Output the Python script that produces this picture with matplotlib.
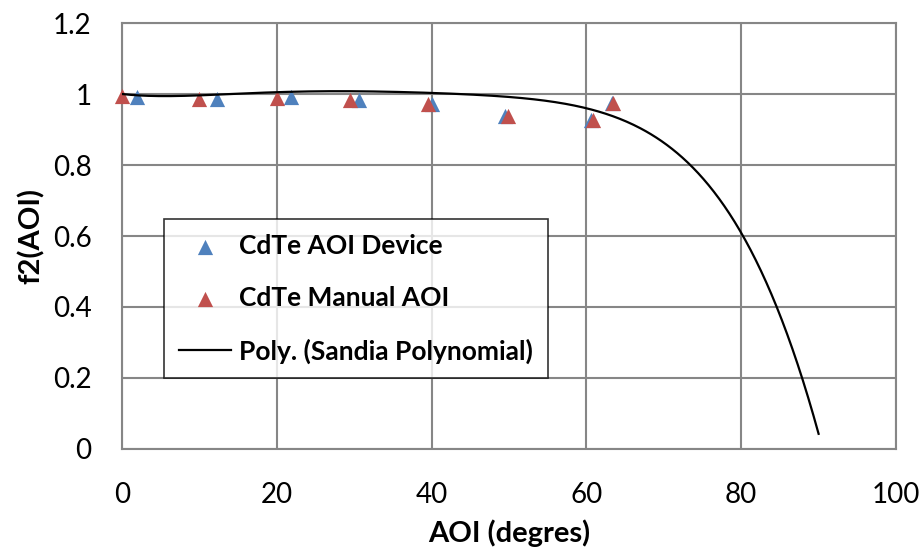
import numpy as np
import matplotlib
matplotlib.use("Agg")
import matplotlib.pyplot as plt

# Measured module response vs angle of incidence
aoi_device = [2.0, 12.3, 21.8, 30.6, 40.0, 49.5, 60.6, 63.3]
f2_device = [0.991, 0.987, 0.991, 0.983, 0.971, 0.938, 0.927, 0.976]

aoi_manual = [0.0, 10.0, 20.0, 29.5, 39.5, 49.9, 60.9, 63.4]
f2_manual = [0.993, 0.987, 0.990, 0.983, 0.971, 0.938, 0.927, 0.976]

# Sandia f2(AOI) polynomial coefficients, b0 .. b5
sandia_coeffs = [1.0, -2.438e-3, 3.103e-4, -1.246e-5, 2.112e-7, -1.359e-9]
poly_range = (0.0, 90.0)

x_ticks = [0, 20, 40, 60, 80, 100]
y_ticks = [0, 0.2, 0.4, 0.6, 0.8, 1.0, 1.2]
y_tick_labels = ["0", "0.2", "0.4", "0.6", "0.8", "1", "1.2"]

BLUE = "#4F81BD"
RED = "#C0504D"
GRID = "#868686"

plt.rcParams["font.family"] = ["Lato", "DejaVu Sans"]

fig = plt.figure(figsize=(9.24, 5.57), dpi=100)
ax = fig.add_axes([0.132, 0.1939, 0.8377, 0.7648])

ax.scatter(aoi_device, f2_device, marker="^", s=120, color=BLUE,
           linewidths=0, zorder=3, clip_on=False, label="CdTe AOI Device")
ax.scatter(aoi_manual, f2_manual, marker="^", s=120, color=RED,
           linewidths=0, zorder=4, clip_on=False, label="CdTe Manual AOI")

xs = np.linspace(poly_range[0], poly_range[1], 400)
ys = np.polyval(sandia_coeffs[::-1], xs)
ax.plot(xs, ys, color="black", lw=1.6, zorder=5,
        label="Poly. (Sandia Polynomial)")

ax.set_xlim(0, 100)
ax.set_ylim(0, 1.2)
ax.set_xticks(x_ticks)
ax.set_yticks(y_ticks)
ax.set_yticklabels(y_tick_labels)
ax.tick_params(axis="both", length=0, labelsize=20, colors="black")
ax.tick_params(axis="x", pad=24)
ax.tick_params(axis="y", pad=22)

ax.grid(True, color=GRID, lw=1.5, zorder=0)
ax.set_axisbelow(True)
for sp in ax.spines.values():
    sp.set_color(GRID)
    sp.set_linewidth(1.5)

ax.set_xlabel("AOI (degres)", fontsize=21, fontweight="bold", labelpad=8)
ax.set_ylabel("f2(AOI)", fontsize=21, fontweight="bold", labelpad=6)

leg = ax.legend(loc="upper left",
                bbox_to_anchor=(164 / 924, (557 - 219) / 557),
                bbox_transform=fig.transFigure,
                frameon=True, fancybox=False,
                prop={"weight": "bold", "size": 19},
                labelspacing=1.08, handlelength=2.0, handletextpad=0.3,
                borderpad=0.55, borderaxespad=0)
leg.get_frame().set_edgecolor("black")
leg.get_frame().set_linewidth(1.2)

fig.savefig("out.png", dpi=100, facecolor="white")
